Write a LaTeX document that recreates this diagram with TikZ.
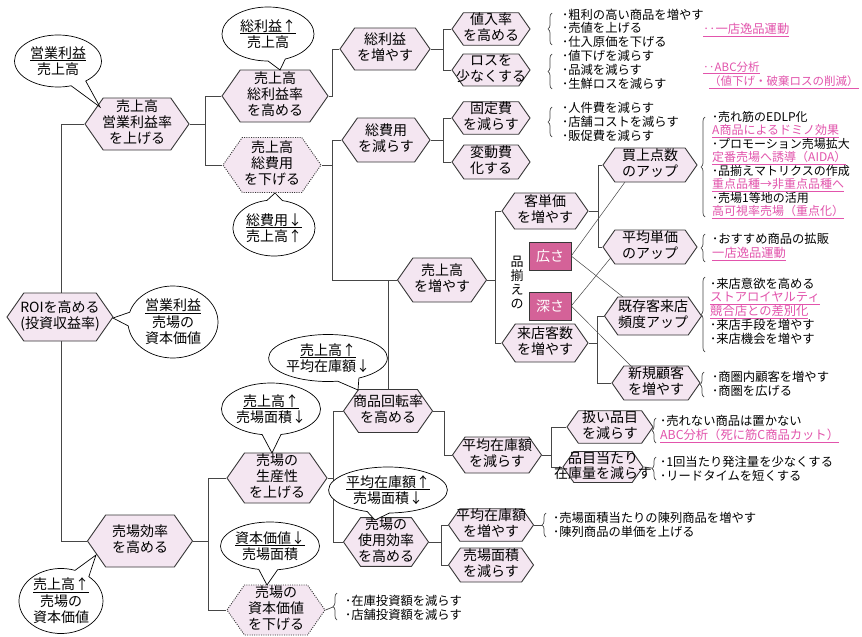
\documentclass[tikz,border=0pt]{standalone}
\usepackage{fontspec}
\setmainfont{Noto Sans CJK JP}
\usetikzlibrary{shapes.symbols,shapes.callouts,decorations.pathreplacing,calc}
\definecolor{hexfill}{RGB}{244,230,241}
\definecolor{hexline}{RGB}{55,55,55}
\definecolor{connc}{RGB}{70,70,70}
\definecolor{pinktxt}{RGB}{226,84,172}
\definecolor{boxpink}{RGB}{212,98,152}
\newcommand{\hexfont}{\fontsize{14}{15}\selectfont}
\newcommand{\calfont}{\fontsize{14}{16.5}\selectfont}
\newcommand{\lstfont}{\fontsize{12.3}{14}\selectfont}
\newcommand{\hxt}[1]{\makebox[0pt]{\begin{tabular}{@{}c@{}}#1\end{tabular}}}
\newcommand{\pk}[1]{{\color{pinktxt}\underline{#1}}}
\pgfdeclarelayer{bg}\pgfdeclarelayer{lines}\pgfsetlayers{bg,lines,main}
\begin{document}
\begin{tikzpicture}[x=1pt,y=-1pt,
  hex/.style={signal, signal to=east and west, signal pointer angle=110, draw=hexline, fill=hexfill, line width=0.9pt, inner sep=0pt, font=\hexfont},
  dhex/.style={hex, dash pattern=on 1pt off 1.3pt},
  conn/.style={draw=connc, line width=1pt},
  diag/.style={draw=connc, line width=0.5pt},
  call/.style={ellipse callout, draw=black, fill=white, line width=0.7pt, inner sep=0pt, align=center, font=\calfont, callout pointer arc=22},
  lst/.style={anchor=west, align=left, inner sep=0pt, font=\lstfont},
  pkbox/.style={draw=hexline, fill=boxpink, text=white, minimum width=42, minimum height=28, inner sep=0pt, font=\fontsize{14}{15}\selectfont},
  brc/.style={draw=connc, line width=0.7pt, decorate, decoration={brace, amplitude=4pt}},
]
\begin{pgfonlayer}{bg}
\fill[white] (0,0) rectangle (862,637);
\end{pgfonlayer}
\useasboundingbox (0,0) rectangle (862,637);

% hexagons
\node[hex, minimum width=104, minimum height=52] (oprate) at (137,124) {\hxt{売上高\\営業利益率\\を上げる}};
\node[hex, minimum width=106, minimum height=52] (gpr) at (275,96) {\hxt{売上高\\総利益率\\を高める}};
\node[dhex, minimum width=98, minimum height=55] (costdown) at (272,165) {\hxt{売上高\\総費用\\を下げる}};
\node[hex, minimum width=90, minimum height=42] (gpinc) at (385,49) {\hxt{総利益\\を増やす}};
\node[hex, minimum width=88, minimum height=44] (costred) at (386,140) {\hxt{総費用\\を減らす}};
\node[hex, minimum width=78, minimum height=30] (markup) at (491,29) {\hxt{値入率\\を高める}};
\node[hex, minimum width=78, minimum height=31] (loss) at (491,70) {\hxt{ロスを\\少なくする}};
\node[hex, minimum width=78, minimum height=30] (fixed) at (491,118) {\hxt{固定費\\を減らす}};
\node[hex, minimum width=78, minimum height=34] (variable) at (491,162) {\hxt{変動費\\化する}};
\node[hex, minimum width=86, minimum height=36] (custprice) at (545,211) {\hxt{客単価\\を増やす}};
\node[hex, minimum width=89, minimum height=44] (salesinc) at (442,280) {\hxt{売上高\\を増やす}};
\node[hex, minimum width=86, minimum height=38] (visitors) at (545,343) {\hxt{来店客数\\を増やす}};
\node[hex, minimum width=94, minimum height=34] (items) at (650,165) {\hxt{買上点数\\のアップ}};
\node[hex, minimum width=94, minimum height=34] (avgprice) at (650,247) {\hxt{平均単価\\のアップ}};
\node[hex, minimum width=97, minimum height=38] (existing) at (653,316) {\hxt{既存客来店\\頻度アップ}};
\node[hex, minimum width=88, minimum height=34] (newcust) at (656,383) {\hxt{新規顧客\\を増やす}};
\node[hex, minimum width=106, minimum height=48] (roi) at (60,317) {\hxt{ROIを高める\\(投資収益率)}};
\node[hex, minimum width=89, minimum height=43] (turnover) at (388,411) {\hxt{商品回転率\\を高める}};
\node[hex, minimum width=89, minimum height=36] (invred) at (497,455) {\hxt{平均在庫額\\を減らす}};
\node[hex, minimum width=100, minimum height=50] (productivity) at (277,478) {\hxt{売場の\\生産性\\を上げる}};
\node[hex, minimum width=105, minimum height=52] (flooreff) at (140,541) {\hxt{売場効率\\を高める}};
\node[dhex, minimum width=98, minimum height=50] (capital) at (276,610) {\hxt{売場の\\資本価値\\を下げる}};
\node[hex, minimum width=85, minimum height=45] (usage) at (386,542) {\hxt{売場の\\使用効率\\を高める}};
\node[hex, minimum width=85, minimum height=30] (invinc) at (491,525) {\hxt{平均在庫額\\を増やす}};
\node[hex, minimum width=85, minimum height=34] (floorred) at (491,565) {\hxt{売場面積\\を減らす}};
\node[hex, minimum width=86, minimum height=30] (skured) at (610,427) {\hxt{扱い品目\\を減らす}};
\node[hex, minimum width=80, minimum height=24, font=\fontsize{14}{12.5}\selectfont] (perqty) at (603,467) {\hxt{品目当たり\\在庫量を減らす}};

% pink boxes and vertical label
\node[pkbox] (hiro) at (550,256) {広さ};
\node[pkbox] (fuka) at (550,306) {深さ};
\node[align=center, inner sep=0pt, font=\fontsize{13}{14}\selectfont] (shina) at (517,283) {品\\揃\\え\\の};

% callouts
\node[call, minimum width=87, minimum height=52, callout absolute pointer={($(oprate.center)+(-37,-17)$)}] (c1) at (58,61) {\underline{営業利益}\\売上高};
\node[call, minimum width=92, minimum height=54, callout absolute pointer={($(gpr.center)+(5,-26)$)}] (c2) at (268,34) {\underline{総利益↑}\\売上高};
\node[call, minimum width=82, minimum height=56, callout absolute pointer={($(costdown.center)+(3,28)$)}] (c3) at (274,228) {\underline{総費用↓}\\売上高↑};
\node[call, minimum width=90, minimum height=72, callout absolute pointer={($(roi.center)+(53,1)$)}] (c4) at (173,322) {\underline{営業利益}\\売場の\\資本価値};
\node[call, minimum width=97, minimum height=47, callout absolute pointer={($(turnover.center)+(-30,-21)$)}] (c5) at (328,358) {\underline{売上高↑}\\平均在庫額↓};
\node[call, minimum width=88, minimum height=52, callout absolute pointer={($(productivity.center)+(-5,-25)$)}] (c6) at (271,409) {\underline{売上高↑}\\売場面積↓};
\node[call, minimum width=93, minimum height=46, callout absolute pointer={($(usage.center)+(-11,-22)$)}] (c7) at (388,490) {\underline{平均在庫額↑}\\売場面積↓};
\node[call, minimum width=90, minimum height=48, callout absolute pointer={($(capital.center)+(-9,-25)$)}] (c8) at (270,546) {\underline{資本価値↓}\\売場面積};
\node[call, minimum width=84, minimum height=58, callout absolute pointer={($(flooreff.center)+(-44,14)$)}] (c9) at (61,601) {\underline{売上高↑}\\売場の\\資本価値};

% lists
\node[lst, font=\fontsize{12.3}{13.5}\selectfont] (l1) at (562,28) {･粗利の高い商品を増やす\\･売値を上げる\\･仕入原価を下げる};
\node[lst] (p1) at (703,30) {\pk{‥一店逸品運動}};
\node[lst, font=\fontsize{12.3}{13.8}\selectfont] (l2) at (562,70) {･値下げを減らす\\･品減を減らす\\･生鮮ロスを減らす};
\node[lst, font=\fontsize{11.5}{14}\selectfont] (p2) at (703,75) {\pk{‥ABC分析}\\\hspace*{6pt}\pk{（値下げ・破棄ロスの削減）}};
\node[lst] (l3) at (562,122) {･人件費を減らす\\･店舗コストを減らす\\･販促費を減らす};
\node[lst, font=\fontsize{12}{12.9}\selectfont] (l4) at (712,165) {･売れ筋のEDLP化\\\pk{A商品によるドミノ効果}\\･プロモーション売場拡大\\\pk{定番売場へ誘導（AIDA）}\\･品揃えマトリクスの作成\\\pk{重点品種→非重点品種へ}\\･売場1等地の活用\\\pk{高可視率売場（重点化）}};
\node[lst] (l5) at (712,247) {･おすすめ商品の拡販\\\pk{一店逸品運動}};
\node[lst, font=\fontsize{12.3}{13.8}\selectfont] (l6) at (710,311) {･来店意欲を高める\\\pk{ストアロイヤルティ}\\\pk{競合店との差別化}\\･来店手段を増やす\\･来店機会を増やす};
\node[lst] (l7) at (712,384) {･商圏内顧客を増やす\\･商圏を広げる};
\node[lst] (l8) at (660,429) {･売れない商品は置かない\\\pk{ABC分析（死に筋C商品カット）}};
\node[lst] (l9) at (660,469) {･1回当たり発注量を少なくする\\･リードタイムを短くする};
\node[lst] (l10) at (553,525) {･売場面積当たりの陳列商品を増やす\\･陳列商品の単価を上げる};
\node[lst] (l11) at (345,608) {･在庫投資額を減らす\\･店舗投資額を減らす};

% braces
\draw[brc] (552,45) -- (552,13);
\draw[brc] (552,89) -- (552,54);
\draw[brc] (552,137) -- (552,107);
\draw[brc] (705,217) -- (705,117);
\draw[brc] (705,262) -- (705,234);
\draw[brc] (705,352) -- (705,277);
\draw[brc] (704,397) -- (704,372);
\draw[brc] (656,443) -- (656,418);
\draw[brc] (656,480) -- (656,457);
\draw[brc] (546,537) -- (546,513);
\draw[brc] (337,620) -- (337,593);

% connectors
\begin{pgfonlayer}{lines}
\coordinate (j0) at ($(oprate.west)+(-23,0)$);
\coordinate (j1) at ($(oprate.east)+(16,0)$);
\coordinate (j2) at ($(gpr.east)+(4,0)$);
\coordinate (j3) at ($(costdown.east)+(11,0)$);
\coordinate (j4) at ($(gpinc.east)+(13,0)$);
\coordinate (j5) at ($(costred.east)+(13,0)$);
\coordinate (j6) at ($(salesinc.east)+(8,0)$);
\coordinate (j7) at ($(custprice.east)+(10,0)$);
\coordinate (j8) at ($(visitors.east)+(9,0)$);
\coordinate (j9) at ($(flooreff.east)+(15,0)$);
\coordinate (j10) at ($(productivity.east)+(6,0)$);
\coordinate (j11) at ($(turnover.east)+(11,0)$);
\coordinate (j12) at ($(invred.east)+(9,0)$);
\coordinate (j13) at ($(usage.east)+(12,0)$);
\draw[conn] (oprate.west) -- (j0) |- (flooreff.west);
\draw[conn] (oprate.east) -- (j1);
\draw[conn] (gpr.west) -| (j1);
\draw[conn] (costdown.west) -| (j1);
\draw[conn] (gpr.east) -- (j2) |- (gpinc.west);
\draw[conn] (costdown.east) -- (j3);
\draw[conn] (costred.west) -| (j3);
\draw[conn] (salesinc.west) -| (j3);
\draw[conn] (gpinc.east) -- (j4);
\draw[conn] (markup.west) -| (j4);
\draw[conn] (loss.west) -| (j4);
\draw[conn] (costred.east) -- (j5);
\draw[conn] (fixed.west) -| (j5);
\draw[conn] (variable.west) -| (j5);
\draw[conn] (salesinc.east) -- (j6);
\draw[conn] (custprice.west) -| (j6);
\draw[conn] (visitors.west) -| (j6);
\draw[conn] (custprice.east) -- (j7);
\draw[conn] (items.west) -| (j7);
\draw[conn] (avgprice.west) -| (j7);
\draw[conn] (visitors.east) -- (j8);
\draw[conn] (existing.west) -| (j8);
\draw[conn] (newcust.west) -| (j8);
\draw[conn] (turnover.north) |- (salesinc.west);
\draw[conn] (flooreff.east) -- (j9);
\draw[conn] (productivity.west) -| (j9);
\draw[conn] (capital.west) -| (j9);
\draw[conn] (productivity.east) -- (j10);
\draw[conn] (turnover.west) -| (j10);
\draw[conn] (usage.west) -| (j10);
\draw[conn] (turnover.east) -- (j11) |- (invred.west);
\draw[conn] (invred.east) -- (j12);
\draw[conn] (skured.west) -| (j12);
\draw[conn] (perqty.west) -| (j12);
\draw[conn] (usage.east) -- (j13);
\draw[conn] (invinc.west) -| (j13);
\draw[conn] (floorred.west) -| (j13);
% diagonals
\draw[diag] (hiro.east) -- ($(items.center)+(-25,17)$);
\draw[diag] (hiro.east) -- ($(existing.center)+(-30,-19)$);
\draw[diag] (fuka.east) -- ($(avgprice.center)+(-37,8)$);
\draw[diag] (fuka.east) -- ($(newcust.center)+(-25,-17)$);
% dashes to braces
\coordinate (bq1) at (652,468);
\coordinate (bq2) at (542,525);
\coordinate (bq3) at (333,607);
\draw[conn, line width=0.7pt] (perqty.east) -- (bq1);
\draw[conn, line width=0.7pt] (invinc.east) -- (bq2);
\draw[conn, line width=0.7pt] (capital.east) -- (bq3);
\end{pgfonlayer}
\end{tikzpicture}
\end{document}
